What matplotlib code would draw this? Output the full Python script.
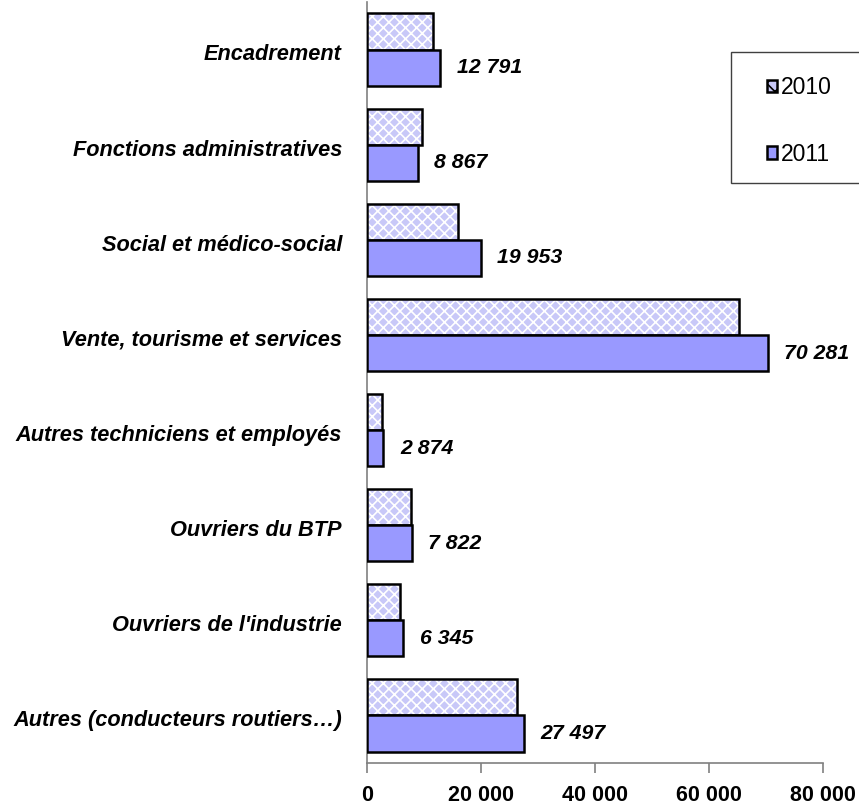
import numpy as np
from matplotlib import pyplot as plt
from matplotlib.patches import Patch, Rectangle

categories = ['Encadrement', 'Fonctions administratives', 'Social et médico-social',
              'Vente, tourisme et services', 'Autres techniciens et employés',
              'Ouvriers du BTP', "Ouvriers de l'industrie", 'Autres (conducteurs routiers…)']
values_2010 = [11550, 9600, 15950, 65300, 2650, 7700, 5800, 26250]
values_2011 = [12791, 8867, 19953, 70281, 2874, 7822, 6345, 27497]
x_ticks = [0, 20000, 40000, 60000, 80000]

plt.rcParams['font.family'] = ['Liberation Sans', 'DejaVu Sans']
plt.rcParams['hatch.linewidth'] = 1.2

def fmt(v):
	return '{:,}'.format(v).replace(',', ' ')

fig = plt.figure(figsize=(8.59, 8.10), dpi=100)
ax = fig.add_axes([0.4272, 0.058, 0.5308, 0.9395])

y = np.arange(len(categories))
h = 0.38
# 2010: lavender fill with white cross hatch, then black outline on top
ax.barh(y - h / 2, values_2010, height=h, color='#c8c8f8', hatch='xxx',
	edgecolor='white', linewidth=0, zorder=2)
ax.barh(y - h / 2, values_2010, height=h, color='none', edgecolor='black',
	linewidth=1.8, zorder=3)
ax.barh(y + h / 2, values_2011, height=h, color='#9999ff', edgecolor='black',
	linewidth=1.8, zorder=3)

for yi, v in zip(y, values_2011):
	ax.annotate(fmt(v), (v, yi + h / 2), xytext=(12, 0), textcoords='offset points',
		ha='left', va='center', fontsize=15.3, fontweight='bold', fontstyle='italic')

ax.set_xlim(0, 80000)
ax.set_ylim(len(categories) - 0.5, -0.5)
ax.set_yticks(y + 0.03)
ax.set_yticklabels(categories, fontsize=15.7, fontweight='bold', fontstyle='italic')
ax.set_xticks(x_ticks)
ax.set_xticklabels([fmt(t) for t in x_ticks], fontsize=15.5, fontweight='bold')
ax.tick_params(axis='y', length=0, pad=18)
ax.tick_params(axis='x', length=7, width=1.2, color='#808080', pad=9, direction='out')
for s in ['top', 'right']:
	ax.spines[s].set_visible(False)
for s in ['left', 'bottom']:
	ax.spines[s].set_color('#808080')
	ax.spines[s].set_linewidth(1.2)

# legend box runs off the right edge of the figure
fig.patches.append(Rectangle((731 / 859, 1 - 183 / 810), 140 / 859, 131 / 810,
	transform=fig.transFigure, facecolor='white', edgecolor='#404040', linewidth=1.0))
handles = [Patch(facecolor='#c8c8f8', hatch='xx', edgecolor='black', linewidth=1.8),
	Patch(facecolor='#9999ff', edgecolor='black', linewidth=1.8)]
fig.legend(handles, ['2010', '2011'], loc='upper left', bbox_to_anchor=(767 / 859, 1 - 76 / 810),
	fontsize=16.5, handlelength=0.45, handleheight=0.45, handletextpad=0.15,
	labelspacing=1.9, borderpad=0, frameon=False, borderaxespad=0)

plt.savefig('out.png', dpi=100)
